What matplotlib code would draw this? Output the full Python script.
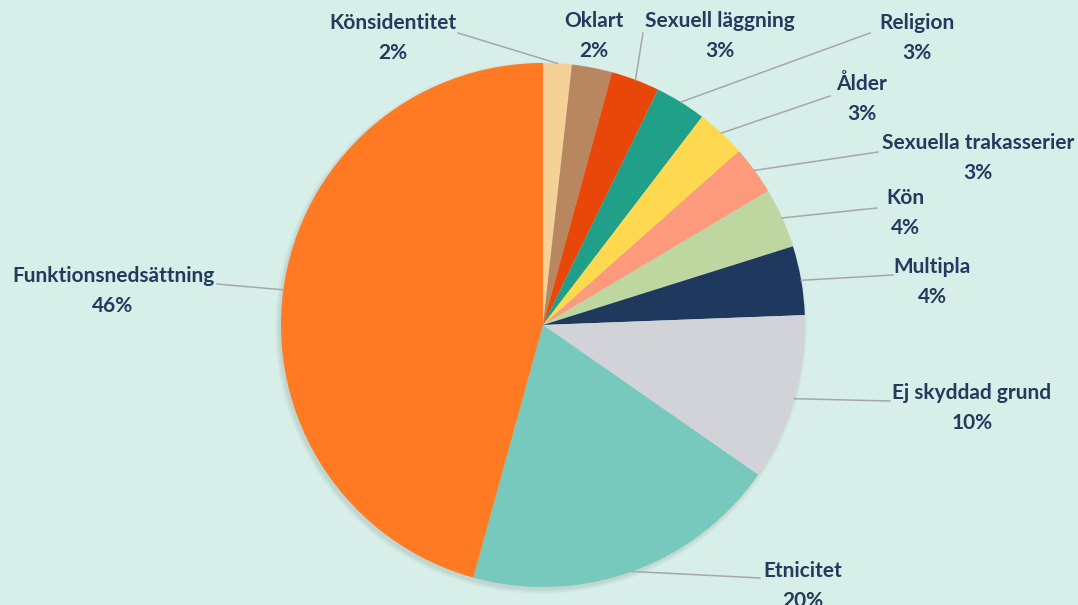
import numpy as np
import matplotlib
matplotlib.use("Agg")
import matplotlib.pyplot as plt
from matplotlib.patches import Circle

# data (share of cases, %), clockwise from 12 o'clock
categories = ["Könsidentitet", "Oklart", "Sexuell läggning", "Religion", "Ålder",
              "Sexuella trakasserier", "Kön", "Multipla", "Ej skyddad grund",
              "Etnicitet", "Funktionsnedsättning"]
shares = [1.76, 2.48, 3.0, 3.14, 3.07, 3.0, 3.69, 4.25, 10.28, 19.6, 45.7]
pct_labels = ["2%", "2%", "3%", "3%", "3%", "3%", "4%", "4%", "10%", "20%", "46%"]

colors = ["#f6d197", "#b8865f", "#e84709", "#21a089", "#fed84e", "#fd9a7c",
          "#bed6a0", "#1f385d", "#d2d3d8", "#76c9bc", "#ff7a22"]

# layout (pixel coords, y from top)
W, H = 1078, 605
cx, cy, R = 543, 325, 262
label_pos = [(393, 38), (594, 36), (720, 36), (917, 38), (862, 99), (978, 158),
             (905, 213), (932, 282), (972, 408), (803, 586), (113, 291)]
leader_end = [(458, 33), None, (643, 33), (870, 33), (830, 96), (878, 152),
              (877, 208), (893, 275), (890, 401), (760, 578), (217, 284)]

bg = "#d8eee8"
txt_color = "#243a5e"

fig = plt.figure(figsize=(W / 100, H / 100), dpi=100)
fig.patch.set_facecolor(bg)
ax = fig.add_axes([0, 0, 1, 1])
ax.set_facecolor(bg)

# soft shadow
for i in range(6):
    ax.add_patch(Circle((cx - 2, H - cy - 3), R + i * 0.8, color="black",
                        alpha=0.015, lw=0, zorder=1))

wedges, _ = ax.pie(shares, colors=colors, startangle=90, counterclock=False,
                   center=(cx, H - cy), radius=R, frame=True,
                   wedgeprops=dict(linewidth=0))
for w in wedges:
    w.set_zorder(2)
ax.set_xlim(0, W)
ax.set_ylim(0, H)
ax.set_aspect("equal")
ax.axis("off")

total = sum(shares)
cum = 0
for i, (name, s) in enumerate(zip(categories, shares)):
    mid = (cum + s / 2) / total * 360
    cum += s
    th = np.deg2rad(mid)
    px = cx + R * np.sin(th)
    py = cy - R * np.cos(th)
    if leader_end[i] is not None:
        ex, ey = leader_end[i]
        ax.plot([px, ex], [H - py, H - ey], color="#a6a8a8", lw=1.1, zorder=3)
    lx, ly = label_pos[i]
    ax.text(lx, H - ly, f"{name}\n{pct_labels[i]}", ha="center", va="center",
            fontsize=15, fontweight="bold", family="Lato", color=txt_color,
            linespacing=1.62, zorder=4)

fig.savefig("out.png", dpi=100, facecolor=bg)
